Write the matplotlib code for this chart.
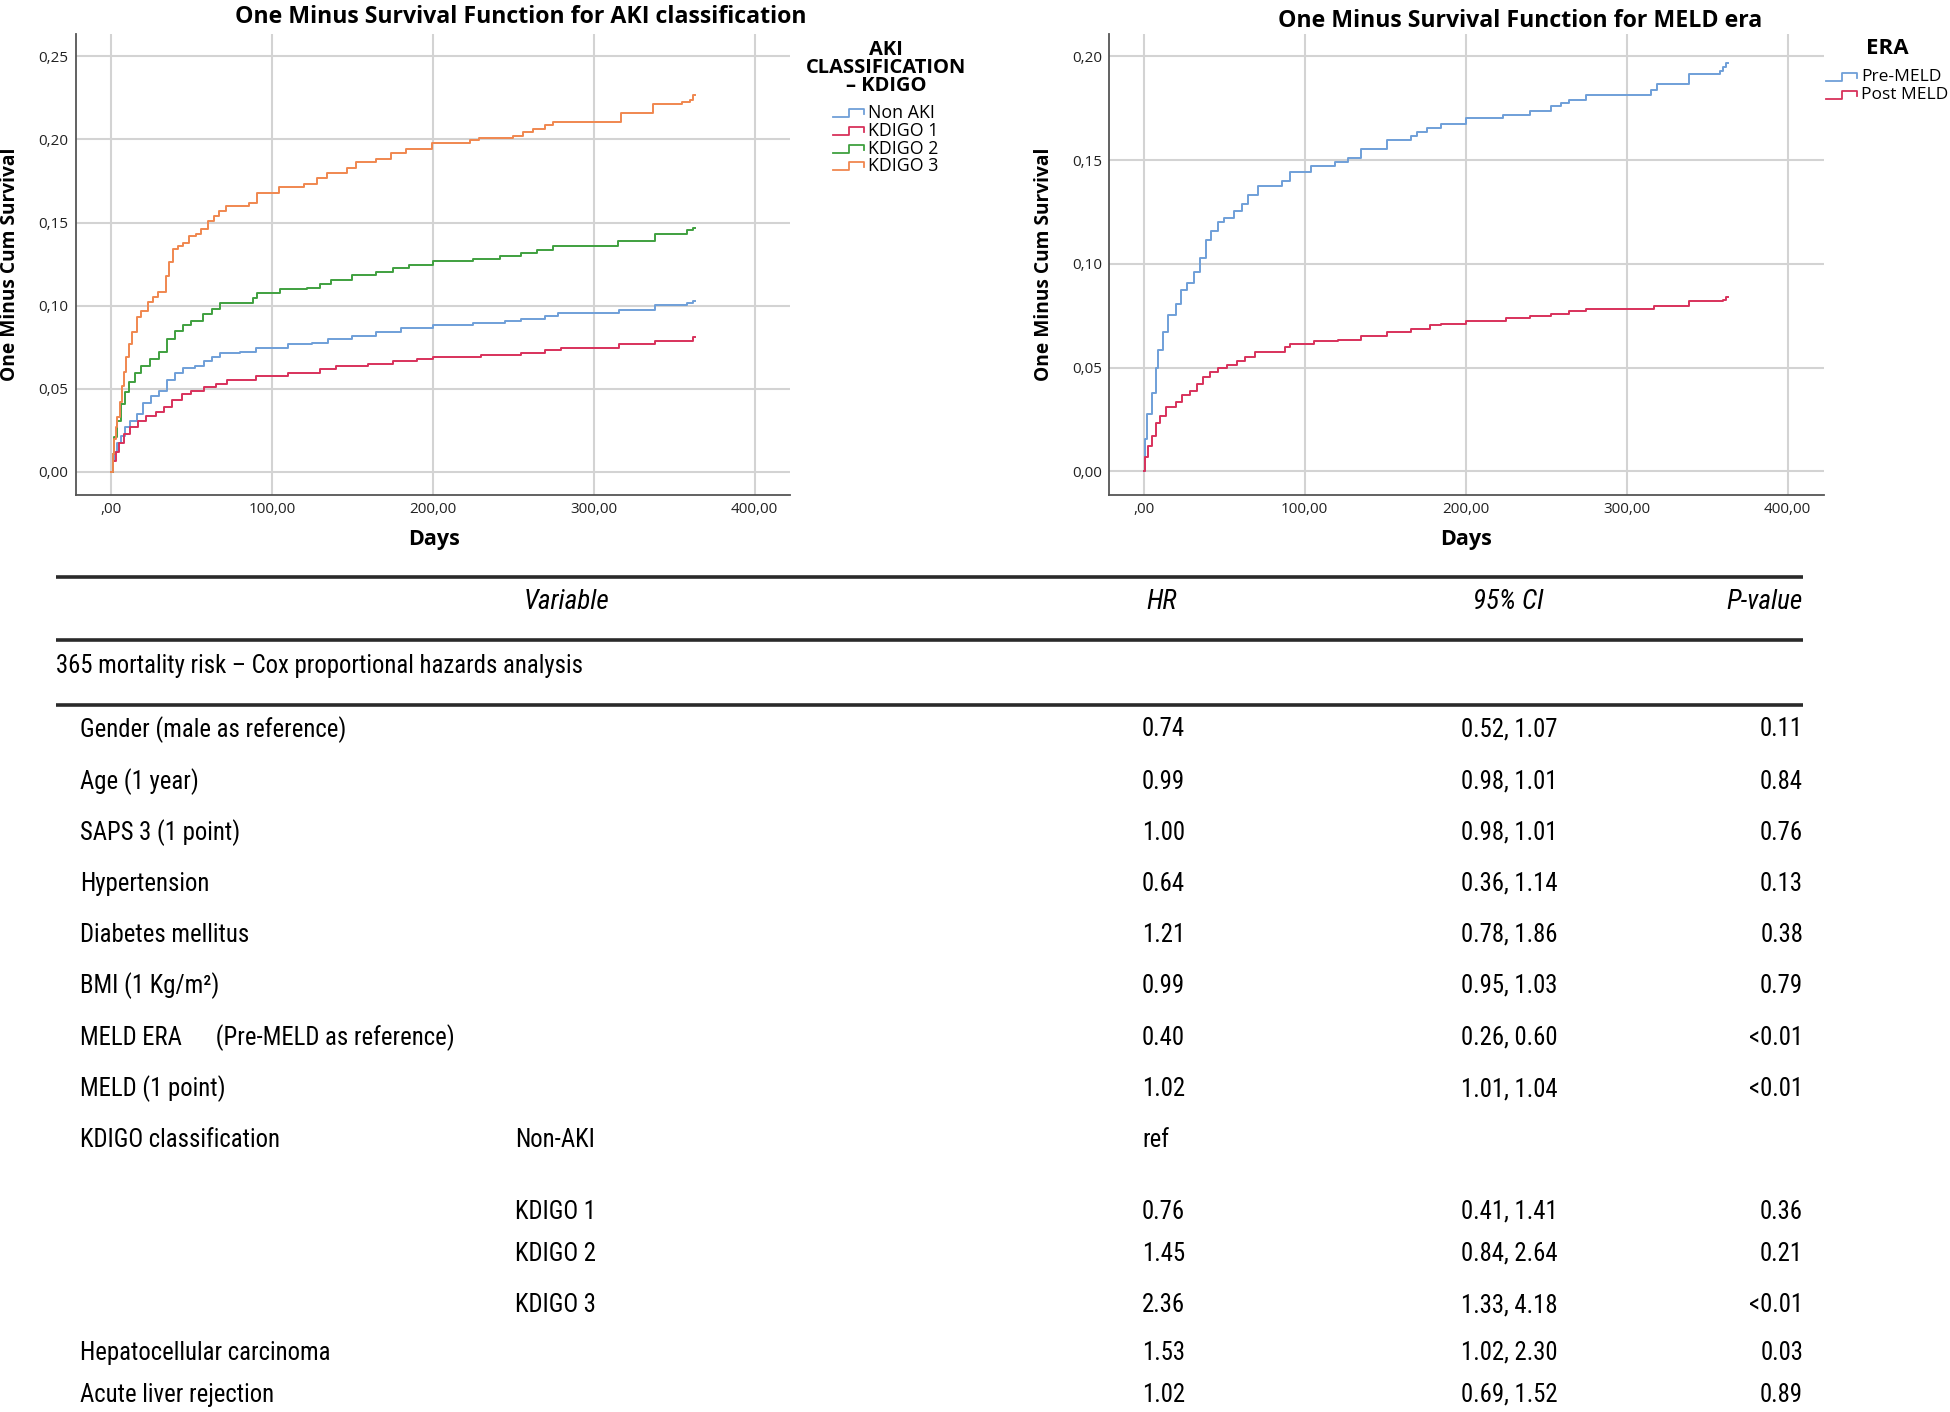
import matplotlib
matplotlib.use("Agg")
import matplotlib.pyplot as plt
from matplotlib.lines import Line2D
from matplotlib.ticker import FuncFormatter
from matplotlib import font_manager

# ---------------- data ----------------
aki_names = ["Non AKI", "KDIGO 1", "KDIGO 2", "KDIGO 3"]
aki_colors = ["#6f9fd8", "#d8315b", "#3fa03f", "#f0874f"]

nonaki_t = [0, 1, 2, 4, 6, 9, 12, 16, 20, 25, 30, 35, 40, 45, 52, 58, 63, 68, 80, 90,
            110, 125, 135, 150, 165, 180, 200, 225, 245, 255, 270, 278, 316, 338, 358, 362, 363]
nonaki_v = [0, 0.0069, 0.0122, 0.0176, 0.0219, 0.0273, 0.0305, 0.0348, 0.0412, 0.0455, 0.0488,
            0.0552, 0.0595, 0.0627, 0.0638, 0.067, 0.0692, 0.0713, 0.0724, 0.0745, 0.0767, 0.0778,
            0.0799, 0.082, 0.0842, 0.0863, 0.0885, 0.0896, 0.0906, 0.0923, 0.0939, 0.0954, 0.0975,
            0.1003, 0.1014, 0.103, 0.103]

kdigo1_t = [0, 1, 3, 5, 8, 12, 17, 22, 28, 33, 38, 44, 50, 58, 65, 72, 90, 110, 130, 140, 160,
            175, 190, 200, 230, 255, 270, 280, 316, 338, 362, 363]
kdigo1_v = [0, 0.0069, 0.0122, 0.0176, 0.023, 0.0273, 0.0305, 0.0337, 0.0359, 0.0391, 0.0434,
            0.0466, 0.0488, 0.0509, 0.053, 0.0552, 0.058, 0.0595, 0.0617, 0.0638, 0.0649, 0.0666,
            0.0681, 0.0692, 0.0702, 0.0717, 0.0735, 0.0745, 0.0767, 0.0788, 0.081, 0.081]

kdigo2_t = [0, 1, 2, 4, 6, 9, 11, 15, 19, 24, 30, 35, 40, 45, 50, 57, 63, 68, 74, 88, 91, 105,
            122, 130, 137, 150, 165, 175, 185, 200, 225, 242, 255, 265, 275, 315, 338, 358, 362, 363]
kdigo2_v = [0, 0.011, 0.021, 0.0305, 0.041, 0.048, 0.054, 0.0595, 0.064, 0.068, 0.0724, 0.08,
            0.085, 0.0885, 0.0906, 0.095, 0.098, 0.1014, 0.1018, 0.1046, 0.1078, 0.110, 0.1104,
            0.1132, 0.1153, 0.1186, 0.1203, 0.1229, 0.1246, 0.1271, 0.1282, 0.1297, 0.1314,
            0.1336, 0.1357, 0.139, 0.1432, 0.1454, 0.147, 0.147]

kdigo3_t = [0, 1, 2, 3, 4, 5.5, 7, 8, 9.5, 11, 13, 16, 19, 23, 26, 29, 34, 36, 38.5, 42, 45,
            48.5, 53, 56, 60.5, 64, 67, 71.6, 86, 90.5, 104.7, 120, 128, 134.5, 147, 152, 164.7,
            174, 183.6, 199.4, 223, 229, 250, 256, 262, 270, 275, 317, 337, 355, 360, 362, 363]
kdigo3_v = [0, 0.011, 0.02, 0.027, 0.033, 0.042, 0.052, 0.06, 0.069, 0.077, 0.084, 0.093, 0.097,
            0.102, 0.105, 0.108, 0.118, 0.126, 0.134, 0.136, 0.138, 0.142, 0.143, 0.146, 0.151,
            0.154, 0.157, 0.160, 0.1615, 0.168, 0.1716, 0.173, 0.1765, 0.18, 0.183, 0.1862,
            0.188, 0.1916, 0.194, 0.198, 0.1997, 0.201, 0.2023, 0.2045, 0.206, 0.2087, 0.2103,
            0.2156, 0.2216, 0.2227, 0.224, 0.227, 0.227]

era_names = ["Pre-MELD", "Post MELD"]
era_colors = ["#6f9fd8", "#d8315b"]

pre_t = [0, 1, 2, 5, 8, 9, 12, 15, 20, 23, 27, 31, 35, 39, 42, 46, 50, 56, 61, 65, 71, 86, 91,
         104, 119, 127, 135, 151, 166, 170, 176, 185, 200, 223, 240, 253, 259, 264, 275, 315,
         319, 339, 358, 360, 362, 363]
pre_v = [0, 0.0155, 0.0275, 0.0378, 0.0498, 0.0584, 0.067, 0.0755, 0.0807, 0.0876, 0.091,
         0.0961, 0.103, 0.1116, 0.1159, 0.12, 0.122, 0.1253, 0.1288, 0.133, 0.1373, 0.14, 0.1442,
         0.1473, 0.149, 0.151, 0.1554, 0.1597, 0.1617, 0.1634, 0.1657, 0.1674, 0.1705, 0.172,
         0.1737, 0.176, 0.1777, 0.1789, 0.1816, 0.1837, 0.1868, 0.1914, 0.1931, 0.1949, 0.1966,
         0.1966]

post_t = [0, 1, 3, 5, 8, 10, 14, 20, 24, 29, 33, 37, 41, 46, 52, 58, 63, 69, 88, 91, 106, 121,
          135, 151, 166, 178, 185, 200, 225, 240, 253, 264, 275, 317, 339, 360, 362, 363]
post_v = [0, 0.0069, 0.012, 0.0172, 0.0232, 0.0266, 0.0309, 0.0335, 0.0369, 0.0386, 0.0421,
          0.0455, 0.0481, 0.0498, 0.0515, 0.0532, 0.0549, 0.0575, 0.0601, 0.0615, 0.0627, 0.0635,
          0.0652, 0.0673, 0.0687, 0.0704, 0.0712, 0.0724, 0.0738, 0.0747, 0.0759, 0.0773, 0.0781,
          0.0798, 0.0819, 0.0828, 0.0841, 0.0841]

x_ticks = [0, 100, 200, 300, 400]
y_ticks_left = [0.00, 0.05, 0.10, 0.15, 0.20, 0.25]
y_ticks_right = [0.00, 0.05, 0.10, 0.15, 0.20]

header = ["Variable", "HR", "95% CI", "P-value"]
section = "365 mortality risk \u2013 Cox proportional hazards analysis"
variables = ["Gender (male as reference)", "Age (1 year)", "SAPS 3 (1 point)", "Hypertension",
             "Diabetes mellitus", "BMI (1 Kg/m\u00b2)", "MELD ERA      (Pre-MELD as reference)",
             "MELD (1 point)", "KDIGO classification", "", "", "",
             "Hepatocellular carcinoma", "Acute liver rejection"]
sublabels = ["", "", "", "", "", "", "", "", "Non-AKI", "KDIGO 1", "KDIGO 2", "KDIGO 3", "", ""]
hr = ["0.74", "0.99", "1.00", "0.64", "1.21", "0.99", "0.40", "1.02", "ref", "0.76", "1.45",
      "2.36", "1.53", "1.02"]
ci = ["0.52, 1.07", "0.98, 1.01", "0.98, 1.01", "0.36, 1.14", "0.78, 1.86", "0.95, 1.03",
      "0.26, 0.60", "1.01, 1.04", "", "0.41, 1.41", "0.84, 2.64", "1.33, 4.18", "1.02, 2.30",
      "0.69, 1.52"]
pval = ["0.11", "0.84", "0.76", "0.13", "0.38", "0.79", "<0.01", "<0.01", "", "0.36", "0.21",
        "<0.01", "0.03", "0.89"]

# ---------------- fonts ----------------
ttf = font_manager.fontManager.ttflist
names = {f.name for f in ttf}
NARROW, STRETCH = "Liberation Sans", "normal"
for pref in ["Liberation Sans Narrow", "Arial Narrow", "Roboto Condensed", "Open Sans Condensed",
             "Noto Sans Condensed", "DejaVu Sans Condensed"]:
    if pref in names:
        NARROW = pref
        break
else:
    for fam in ["Liberation Sans", "Roboto", "Noto Sans", "Open Sans", "DejaVu Sans"]:
        hits = [f for f in ttf if f.name == fam and f.stretch in
                ("condensed", "semi-condensed", "extra-condensed")]
        if hits:
            NARROW, STRETCH = fam, hits[0].stretch
            break
for n in sorted(names):
    if ("arrow" in n or "ondens" in n) and NARROW == "Liberation Sans" and STRETCH == "normal":
        NARROW = n
        break

CHART = "Open Sans"
plt.rcParams["font.family"] = [CHART, "DejaVu Sans"]

W, H = 1950, 1412
fig = plt.figure(figsize=(W / 100, H / 100), dpi=100)
renderer = fig.canvas.get_renderer()

# size the narrow font so that the reference row width is (roughly) matched
probe = fig.text(0, 0, variables[0], family=[NARROW, "DejaVu Sans"], fontstretch=STRETCH,
                 fontsize=20)
w20 = probe.get_window_extent(renderer).width
probe.remove()
narrow_size = min(20 * 266.0 / w20, 20.5)


def fx(px):
    return px / W


def fy(py):
    return 1 - py / H


def comma_fmt(v, pos):
    return f"{v:.2f}".replace(".", ",")


def comma_fmt_x(v, pos):
    s = f"{v:.2f}".replace(".", ",")
    if s.startswith("0,"):
        s = s[1:]
    return s


def setup_axes(ax, xlim, ylim, yticks):
    ax.set_xlim(*xlim)
    ax.set_ylim(*ylim)
    ax.set_xticks(x_ticks)
    ax.set_yticks(yticks)
    ax.xaxis.set_major_formatter(FuncFormatter(comma_fmt_x))
    ax.yaxis.set_major_formatter(FuncFormatter(comma_fmt))
    for s in ["top", "right"]:
        ax.spines[s].set_visible(False)
    for s in ["left", "bottom"]:
        ax.spines[s].set_color("#555555")
        ax.spines[s].set_linewidth(1.3)
    ax.grid(True, color="#d3d3d3", linewidth=1.5)
    ax.set_axisbelow(True)
    ax.tick_params(length=0, labelsize=11, colors="#222222")
    ax.tick_params(axis="x", pad=5)
    ax.tick_params(axis="y", pad=5)


def step_handle(x0, y0, w=31, h=8, color="k"):
    xs = [x0, x0 + w * 0.5, x0 + w * 0.5, x0 + w, x0 + w]
    ys = [y0 + h / 2, y0 + h / 2, y0 - h / 2, y0 - h / 2, y0 + 1]
    fig.add_artist(Line2D([fx(x) for x in xs], [fy(y) for y in ys], color=color,
                          linewidth=1.3, transform=fig.transFigure))


# ---------------- left plot ----------------
axL = fig.add_axes([fx(75.5), fy(494.6), fx(790) - fx(75.5), fy(34) - fy(494.6)])
setup_axes(axL, (-22, 422), (-0.0136, 0.2634), y_ticks_left)
for t, v, c in zip([nonaki_t, kdigo1_t, kdigo2_t, kdigo3_t],
                   [nonaki_v, kdigo1_v, kdigo2_v, kdigo3_v], aki_colors):
    axL.plot(t, v, drawstyle="steps-post", color=c, linewidth=1.4)
axL.set_ylabel("One Minus Cum Survival", fontsize=13.8, fontweight="bold")
axL.yaxis.set_label_coords(-0.077, 0.5)
axL.set_xlabel("Days", fontsize=15.5, fontweight="bold")
axL.xaxis.set_label_coords(0.502, -0.075)
fig.text(fx(521), fy(17), "One Minus Survival Function for AKI classification",
         ha="center", va="center", fontsize=16.7, fontweight="bold")

# legend left
for i, line in enumerate(["AKI", "CLASSIFICATION", "\u2013 KDIGO"]):
    fig.text(fx(886), fy(50 + 18 * i), line, ha="center", va="center", fontsize=14.5,
             fontweight="bold")
for i, (n, c) in enumerate(zip(aki_names, aki_colors)):
    yc = 113 + 17.8 * i
    step_handle(833, yc, color=c)
    fig.text(fx(868), fy(yc), n, ha="left", va="center", fontsize=12.8)

# ---------------- right plot ----------------
axR = fig.add_axes([fx(1109), fy(494.6), fx(1824) - fx(1109), fy(34) - fy(494.6)])
setup_axes(axR, (-21.5, 422.6), (-0.0112, 0.2108), y_ticks_right)
for t, v, c in zip([pre_t, post_t], [pre_v, post_v], era_colors):
    axR.plot(t, v, drawstyle="steps-post", color=c, linewidth=1.4)
axR.set_ylabel("One Minus Cum Survival", fontsize=13.8, fontweight="bold")
axR.yaxis.set_label_coords(-0.077, 0.5)
axR.set_xlabel("Days", fontsize=15.5, fontweight="bold")
axR.xaxis.set_label_coords(0.499, -0.075)
fig.text(fx(1520), fy(21), "One Minus Survival Function for MELD era",
         ha="center", va="center", fontsize=16.7, fontweight="bold")

fig.text(fx(1887), fy(49), "ERA", ha="center", va="center", fontsize=16, fontweight="bold")
for i, (n, c) in enumerate(zip(era_names, era_colors)):
    yc = 77 + 18 * i
    step_handle(1826, yc, color=c)
    fig.text(fx(1861), fy(yc), n, ha="left", va="center", fontsize=12.5)

# ---------------- table ----------------
axT = fig.add_axes([0, 0, 1, 1])
axT.set_xlim(0, W)
axT.set_ylim(H, 0)
axT.axis("off")
axT.set_zorder(-1)

for yl in [577, 640, 705]:
    axT.plot([56, 1803], [yl, yl], color="#2a2a2a", linewidth=2.6, solid_capstyle="butt")

tkw = dict(family=[NARROW, "DejaVu Sans"], fontstretch=STRETCH, fontsize=narrow_size,
           color="black")
hkw = dict(tkw, style="italic", fontsize=narrow_size * 1.1)
axT.text(567, 602, header[0], ha="center", va="center", **hkw)
axT.text(1162, 602, header[1], ha="center", va="center", **hkw)
axT.text(1508, 602, header[2], ha="center", va="center", **hkw)
axT.text(1803, 602, header[3], ha="right", va="center", **hkw)
axT.text(56, 666, section, ha="left", va="center", **tkw)

row_y = [727.5, 779.7, 830.7, 881.7, 932.7, 983.7, 1036, 1087, 1138, 1210, 1252, 1303,
         1350.6, 1392.8]
for y, var, sub, h, c, p in zip(row_y, variables, sublabels, hr, ci, pval):
    y = y + 2
    if var:
        axT.text(80, y, var, ha="left", va="center", **tkw)
    if sub:
        axT.text(515, y, sub, ha="left", va="center", **tkw)
    axT.text(1142, y, h, ha="left", va="center", **tkw)
    if c:
        axT.text(1461, y, c, ha="left", va="center", **tkw)
    if p:
        axT.text(1803, y, p, ha="right", va="center", **tkw)

fig.savefig("out.png", dpi=100)
